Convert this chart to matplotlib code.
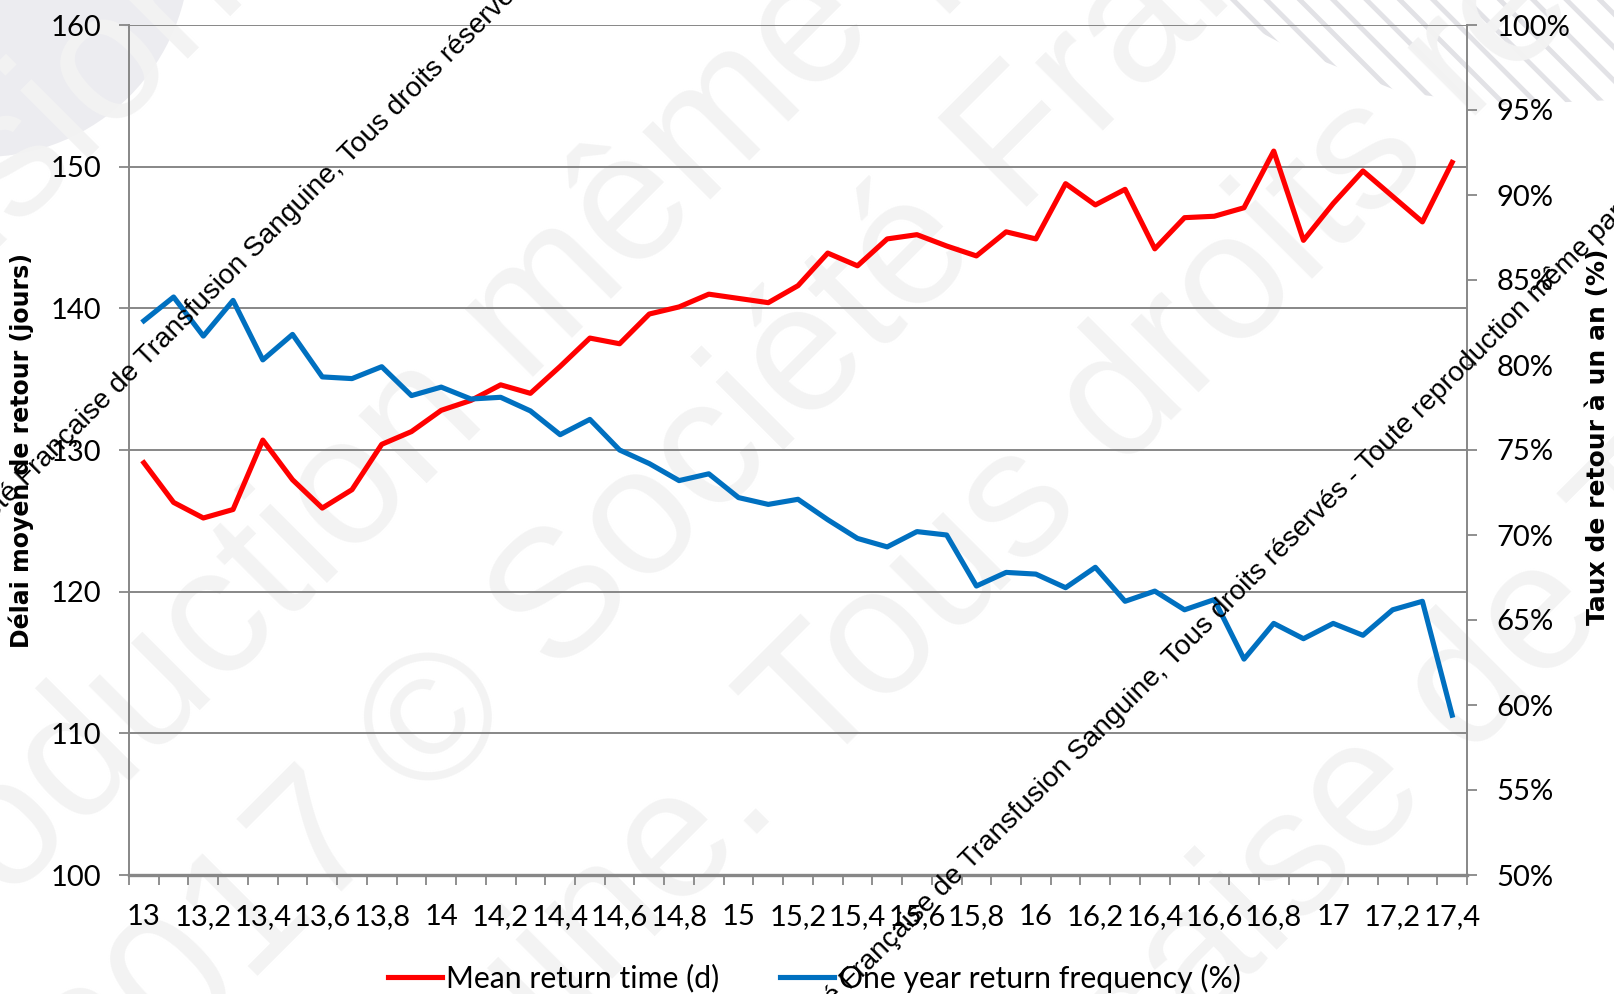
import matplotlib
matplotlib.use("Agg")
import math
import matplotlib.pyplot as plt
from matplotlib.patches import Ellipse, Polygon
from matplotlib.font_manager import FontProperties
from matplotlib.ticker import FixedLocator, FixedFormatter, NullFormatter, FuncFormatter

# ---------------------------------------------------------------- data
periods = ["13", "13,1", "13,2", "13,3", "13,4", "13,5", "13,6", "13,7", "13,8", "13,9",
           "14", "14,1", "14,2", "14,3", "14,4", "14,5", "14,6", "14,7", "14,8", "14,9",
           "15", "15,1", "15,2", "15,3", "15,4", "15,5", "15,6", "15,7", "15,8", "15,9",
           "16", "16,1", "16,2", "16,3", "16,4", "16,5", "16,6", "16,7", "16,8", "16,9",
           "17", "17,1", "17,2", "17,3", "17,4"]

mean_return_days = [129.1, 126.3, 125.2, 125.8, 130.7, 127.9, 125.9, 127.2, 130.4, 131.3,
                    132.8, 133.5, 134.6, 134.0, 135.9, 137.9, 137.5, 139.6, 140.1, 141.0,
                    140.7, 140.4, 141.6, 143.9, 143.0, 144.9, 145.2, 144.4, 143.7, 145.4,
                    144.9, 148.8, 147.3, 148.4, 144.2, 146.4, 146.5, 147.1, 151.1, 144.8,
                    147.4, 149.7, 147.9, 146.1, 150.3]

one_year_return_pct = [82.6, 84.0, 81.7, 83.8, 80.3, 81.8, 79.3, 79.2, 79.9, 78.2,
                       78.7, 78.0, 78.1, 77.3, 75.9, 76.8, 75.0, 74.2, 73.2, 73.6,
                       72.2, 71.8, 72.1, 70.9, 69.8, 69.3, 70.2, 70.0, 67.0, 67.8,
                       67.7, 66.9, 68.1, 66.1, 66.7, 65.6, 66.2, 62.7, 64.8, 63.9,
                       64.8, 64.1, 65.6, 66.1, 59.4]

left_ticks = [100, 110, 120, 130, 140, 150, 160]
right_ticks = [50, 55, 60, 65, 70, 75, 80, 85, 90, 95, 100]

series_names = ["Mean return time (d)", "One year return frequency (%)"]
copyright_line = ("Société Française de Transfusion Sanguine, Tous droits réservés - "
                  "Toute reproduction même partielle interdite")

# faint background watermark: (text, word used as anchor, anchor centre in px from top-left)
faint_lines = [
    ("Société Française de Transfusion Sanguine", "sion", 100, 80),
    ("Reproduction même partielle interdite", "même", 669, 175),
    ("interdite. 2017 © Société Française de Transfusion", "©", 440, 727),
    ("Transfusion Sanguine. Tous droits réservés", "Tous", 915, 608),
    ("Société Française de Transfusion", "de", 1505, 655),
]

# ---------------------------------------------------------------- figure
W, H = 1614, 994
fig = plt.figure(figsize=(W / 100, H / 100), dpi=100)
fig.patch.set_facecolor("white")

GRID = "#878787"
RED = "#FF0000"
BLUE = "#0070C0"
TICK_FONT = "Lato"
ANGLE = 45


def px(x, y):
    """pixel position (from top-left) -> figure fraction"""
    return x / W, 1 - y / H


# slide decorations behind the chart
R = 207
fig.add_artist(Ellipse(px(-17, -50), 2 * R / W, 2 * R / H, transform=fig.transFigure,
                       facecolor="#ececf0", edgecolor="none", zorder=-3))
plt.rcParams["hatch.linewidth"] = 3.5
plt.rcParams["hatch.color"] = "#e2e2e6"
stripes = [px(1200, 0), px(1290, 48), px(1400, 92), px(1500, 105), px(1614, 100), px(1614, 0)]
fig.add_artist(Polygon(stripes, closed=True, transform=fig.transFigure, facecolor="none",
                       edgecolor="#e2e2e6", hatch="\\", linewidth=0, zorder=-3))

renderer = fig.canvas.get_renderer()
wm_font = FontProperties(family="Liberation Sans", size=130)


def text_width(s):
    w, _, _ = renderer.get_text_width_height_descent(s, wm_font, ismath=False)
    return w


for line, word, cx, cy in faint_lines:
    pre = line[:line.index(word)]
    dist = text_width(pre + word) - text_width(word) / 2
    sx = cx - dist * math.cos(math.radians(ANGLE))
    sy = cy + dist * math.sin(math.radians(ANGLE))
    fig.text(*px(sx, sy), line, rotation=ANGLE, rotation_mode="anchor", ha="left",
             va="center", fontproperties=wm_font, color="#f3f3f3", zorder=-2)

# ---------------------------------------------------------------- axes
ax = fig.add_axes([129 / W, 1 - 875 / H, 1338 / W, 850 / H])
ax.patch.set_visible(False)
ax2 = ax.twinx()

x = list(range(len(periods)))
ax.plot(x, mean_return_days, color=RED, lw=3.7, solid_joinstyle="round", zorder=3)
ax2.plot(x, one_year_return_pct, color=BLUE, lw=3.7, solid_joinstyle="round", zorder=3)

ax.set_xlim(-0.5, len(periods) - 0.5)
ax.set_ylim(100, 160)
ax2.set_ylim(50, 100)

ax.set_yticks(left_ticks)
ax2.set_yticks(right_ticks)
ax2.yaxis.set_major_formatter(FuncFormatter(lambda v, p: f"{v:.0f}%"))

# tick marks on the category boundaries, a label on every second category
ax.xaxis.set_major_locator(FixedLocator([i - 0.5 for i in range(len(periods) + 1)]))
ax.xaxis.set_major_formatter(NullFormatter())
ax.xaxis.set_minor_locator(FixedLocator(x[::2]))
ax.xaxis.set_minor_formatter(FixedFormatter(periods[::2]))

ax.yaxis.grid(True, color=GRID, lw=1.4, zorder=0)
ax.set_axisbelow(True)

ax.tick_params(axis="x", which="major", direction="out", length=7, width=1.3, color=GRID)
ax.tick_params(axis="x", which="minor", length=0, pad=21, labelsize=21)
ax.tick_params(axis="y", direction="out", length=7, width=1.3, color=GRID, pad=13, labelsize=21)
ax2.tick_params(axis="y", direction="out", length=7, width=1.3, color=GRID, pad=14, labelsize=21)
for lab in ax.get_xticklabels(minor=True) + ax.get_yticklabels() + ax2.get_yticklabels():
    lab.set_family(TICK_FONT)

for s in ["top", "right"]:
    ax.spines[s].set_visible(False)
for s in ["top", "left", "bottom"]:
    ax2.spines[s].set_visible(False)
ax.spines["left"].set_color(GRID)
ax.spines["left"].set_linewidth(1.4)
ax.spines["bottom"].set_color(GRID)
ax.spines["bottom"].set_linewidth(2.4)
ax2.spines["right"].set_color(GRID)
ax2.spines["right"].set_linewidth(1.4)

ax.set_ylabel("Délai moyen de retour (jours)", fontsize=17, fontweight="bold",
              family="DejaVu Sans")
ax.yaxis.set_label_coords(-0.071, 0.499)
ax2.set_ylabel("Taux de retour à un an (%)", fontsize=18, fontweight="bold",
               family="DejaVu Sans", rotation=90)
ax2.yaxis.set_label_coords(1.089, 0.515)

# legend below the axis
handles = ax.get_lines() + ax2.get_lines()
fig.legend(handles, series_names, loc="center", bbox_to_anchor=px(814, 978),
           ncol=2, frameon=False, prop={"family": TICK_FONT, "size": 21.7},
           handlelength=1.8, handletextpad=0.15, columnspacing=2.0)

# diagonal copyright lines over the chart
for sx, sy in [(-45, 559), (779, 1062)]:
    fig.text(*px(sx, sy), copyright_line, rotation=ANGLE, rotation_mode="anchor",
             ha="left", va="baseline", fontsize=20.2, family="Liberation Sans",
             color="black", zorder=10)

fig.savefig("out.png", dpi=100)
